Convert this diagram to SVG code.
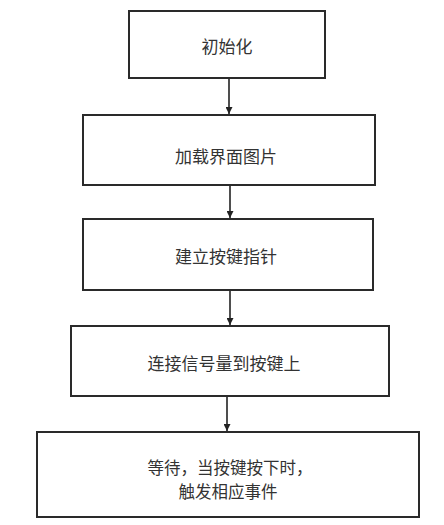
<svg xmlns="http://www.w3.org/2000/svg" width="444" height="525" viewBox="0 0 444 525">
<style>
.box{fill:#fff;stroke:#2a2a2a;stroke-width:2}
.t{font-family:"Noto Sans CJK SC","Noto Sans",sans-serif;font-size:17px;fill:#333;text-anchor:middle;dominant-baseline:central}
.s{font-size:16.5px}
.c{stroke:#222;stroke-width:1.6;fill:none;marker-end:url(#ah)}
</style>
<defs>
<marker id="ah" viewBox="0 0 10 10" refX="10" refY="5" markerWidth="7" markerHeight="7" markerUnits="userSpaceOnUse" orient="auto">
<path d="M0,0 L10,5 L0,10 z" fill="#222"/>
</marker>
</defs>
<rect width="444" height="525" fill="#fff"/>
<g id="connectors">
<line class="c" x1="229" y1="78" x2="229" y2="114"/>
<line class="c" x1="230" y1="185" x2="230" y2="218"/>
<line class="c" x1="230" y1="290" x2="230" y2="325"/>
<line class="c" x1="227" y1="396" x2="227" y2="431"/>
</g>
<g id="n1"><rect class="box" x="129" y="11" width="196" height="67"/><text class="t" x="227" y="45">初始化</text></g>
<g id="n2"><rect class="box" x="83" y="115" width="292" height="70"/><text class="t" x="226" y="155">加载界面图片</text></g>
<g id="n3"><rect class="box" x="83" y="219" width="290" height="71"/><text class="t" x="226" y="255">建立按键指针</text></g>
<g id="n4"><rect class="box" x="71" y="326" width="318" height="70"/><text class="t" x="224" y="362">连接信号量到按键上</text></g>
<g id="n5"><rect class="box" x="37" y="432" width="382" height="85"/><text class="t s" x="230" y="466.5">等待，当按键按下时，</text><text class="t s" x="228" y="490.5">触发相应事件</text></g>
</svg>
